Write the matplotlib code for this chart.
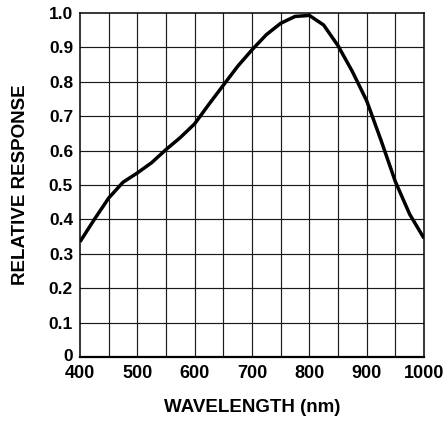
import matplotlib
matplotlib.use("Agg")
import matplotlib.pyplot as plt
import matplotlib.transforms as mtransforms
import numpy as np

wavelength_nm = [400, 425, 450, 475, 500, 525, 550, 575, 600, 625, 650, 675, 700,
                 725, 750, 775, 800, 825, 850, 875, 900, 925, 950, 975, 1000]
relative_response = [0.335, 0.40, 0.462, 0.508, 0.535, 0.565, 0.603, 0.638, 0.678,
                     0.735, 0.79, 0.845, 0.893, 0.937, 0.97, 0.99, 0.993, 0.965,
                     0.905, 0.83, 0.745, 0.63, 0.51, 0.415, 0.345]
x_ticks = [400, 500, 600, 700, 800, 900, 1000]
y_ticks = [0, 0.1, 0.2, 0.3, 0.4, 0.5, 0.6, 0.7, 0.8, 0.9, 1.0]
y_ticklabels = ["0", "0.1", "0.2", "0.3", "0.4", "0.5", "0.6", "0.7", "0.8", "0.9", "1.0"]
x_grid = [450, 500, 550, 600, 650, 700, 750, 800, 850, 900, 950]

plt.rcParams['font.family'] = ['Liberation Sans', 'DejaVu Sans']

fig = plt.figure(figsize=(4.44, 4.21), dpi=100)
ax = fig.add_axes([80/444, (421-357)/421, 344/444, 344/421])

ax.set_xlim(400, 1000)
ax.set_ylim(0, 1.0)
for xv in x_grid:
    ax.axvline(xv, color="#1a1a1a", lw=0.85, zorder=1)
for yv in y_ticks[1:-1]:
    ax.axhline(yv, color="#1a1a1a", lw=0.85, zorder=1)

ax.plot(wavelength_nm, relative_response, color="black", lw=2.5,
        solid_joinstyle="round", solid_capstyle="butt", zorder=3)

ax.set_xticks(x_ticks)
ax.set_xticklabels([str(v) for v in x_ticks], fontsize=13, fontweight="bold")
ax.set_yticks(y_ticks)
ax.set_yticklabels(y_ticklabels, fontsize=12.5, fontweight="bold")
ax.tick_params(axis="x", length=0, pad=6)
ax.tick_params(axis="y", length=0, pad=5)
for s in ax.spines.values():
    s.set_linewidth(1.1)
    s.set_color("black")
ax.spines["bottom"].set_linewidth(1.6)

# nudge the "0" label up slightly, as in the reference
zero_lbl = ax.get_yticklabels()[0]
zero_lbl.set_transform(zero_lbl.get_transform() +
                       mtransforms.ScaledTranslation(0, 2/100, fig.dpi_scale_trans))

fig.text(252/444, 1 - 407/421, "WAVELENGTH (nm)", fontsize=13.5, fontweight="bold",
         ha="center", va="center")
fig.text(20.5/444, 1 - 185/421, "RELATIVE RESPONSE", fontsize=13.5, fontweight="bold",
         ha="center", va="center", rotation=90)

fig.savefig("out.png", dpi=100)
